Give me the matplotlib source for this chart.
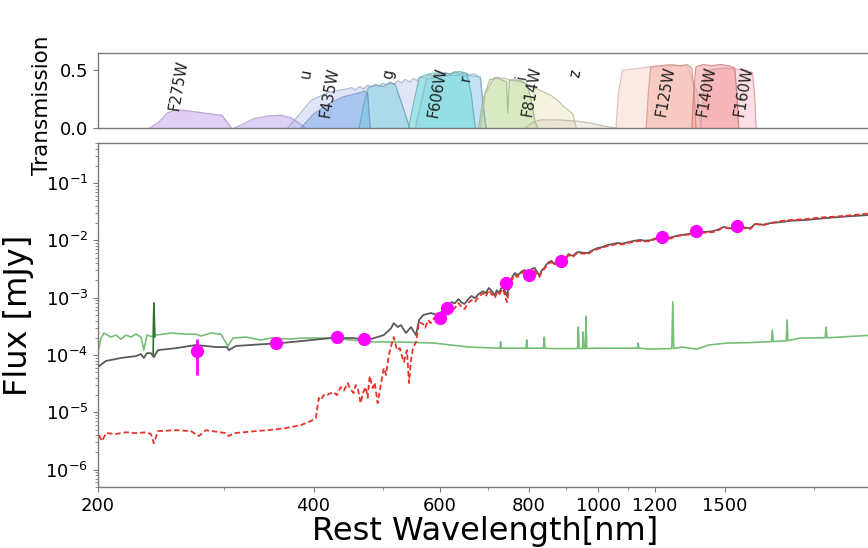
import matplotlib
matplotlib.use("Agg")
import matplotlib.pyplot as plt
import numpy as np

# ---------------- data ----------------
# filter transmission curves (wavelength nm, transmission)
f275w_wl = [236, 243, 250, 257, 270, 285, 298, 303, 307]
f275w_t = [0, 0.05, 0.13, 0.16, 0.145, 0.125, 0.11, 0.05, 0]
u2_wl = [310, 318, 330, 345, 360, 372, 382, 390]
u2_t = [0, 0.03, 0.08, 0.105, 0.11, 0.09, 0.04, 0]
broad_wl = [368, 380, 397, 420, 446, 452, 458, 464, 470, 476, 482, 488, 494, 500, 506, 512, 518, 525, 531, 537,
            545, 552, 558, 564, 572, 580, 588, 596, 604, 612, 620, 630, 640, 650, 660, 670, 678, 684, 690, 697]
broad_t = [0, 0.1, 0.24, 0.31, 0.34, 0.35, 0.33, 0.36, 0.34, 0.37, 0.36, 0.38, 0.36, 0.39, 0.37, 0.40, 0.38,
           0.41, 0.39, 0.42, 0.40, 0.43, 0.41, 0.44, 0.43, 0.46, 0.45, 0.47, 0.46, 0.48, 0.46, 0.49, 0.47, 0.48,
           0.46, 0.47, 0.45, 0.44, 0.2, 0]
f435w_wl = [384, 400, 420, 440, 460, 472, 476, 480]
f435w_t = [0, 0.12, 0.21, 0.27, 0.30, 0.32, 0.30, 0]
g_wl = [463, 470, 477, 490, 500, 510, 520, 532, 545]
g_t = [0, 0.2, 0.35, 0.37, 0.36, 0.39, 0.38, 0.2, 0]
f606w_wl = [543, 552, 562, 580, 600, 620, 640, 655, 664, 673]
f606w_t = [0, 0.22, 0.44, 0.47, 0.48, 0.47, 0.49, 0.47, 0.3, 0]
r_wl = [555, 575, 600, 640, 670, 684, 690, 696]
r_t = [0, 0.42, 0.45, 0.46, 0.45, 0.44, 0.2, 0]
i_wl = [680, 690, 705, 725, 744, 747, 751, 760, 780, 795, 805, 815, 822]
i_t = [0, 0.25, 0.42, 0.43, 0.40, 0.13, 0.41, 0.42, 0.41, 0.38, 0.25, 0.06, 0]
f814w_wl = [684, 695, 716, 740, 760, 780, 800, 820, 840, 860, 880, 893, 910, 921, 931]
f814w_t = [0, 0.3, 0.44, 0.43, 0.41, 0.40, 0.37, 0.34, 0.31, 0.28, 0.23, 0.19, 0.15, 0.12, 0]
z_wl = [790, 810, 830, 880, 930, 980, 1020, 1060]
z_t = [0, 0.05, 0.07, 0.07, 0.06, 0.04, 0.015, 0]
f110_wl = [1058, 1066, 1080, 1120, 1180, 1250, 1330, 1375, 1390]
f110_t = [0, 0.3, 0.50, 0.51, 0.53, 0.54, 0.54, 0.3, 0]
f160w_wl = [1390, 1400, 1415, 1500, 1560, 1610, 1640, 1652, 1660]
f160w_t = [0, 0.3, 0.5, 0.52, 0.51, 0.50, 0.48, 0.3, 0]
f140w_wl = [1350, 1358, 1368, 1400, 1440, 1480, 1520, 1550, 1560, 1570]
f140w_t = [0, 0.3, 0.53, 0.55, 0.54, 0.55, 0.54, 0.52, 0.3, 0]
f125w_wl = [1166, 1174, 1183, 1220, 1260, 1300, 1330, 1350, 1360, 1368]
f125w_t = [0, 0.3, 0.53, 0.54, 0.55, 0.54, 0.55, 0.52, 0.3, 0]

filter_names = ["F275W", "u", "F435W", "g", "F606W", "r", "i", "F814W", "z", "F125W", "F140W", "F160W"]
label_wl = [259.5, 390, 421, 509.5, 596, 652.6, 781, 807, 928, 1239, 1414, 1595]
label_t = [0.37, 0.47, 0.31, 0.47, 0.31, 0.43, 0.44, 0.32, 0.47, 0.32, 0.32, 0.32]

# model spectra: (rest wavelength nm, flux mJy)
gray_points = [
    (200.6, 6.4e-5), (205.2, 7.9e-5), (215.3, 8.9e-5), (226.0, 9.6e-5), (229.6, 1.04e-4), (231.8, 8.9e-5),
    (234.1, 1.08e-4), (237.1, 1.08e-4), (239.4, 9.2e-5), (242.5, 1.22e-4), (257.0, 1.32e-4), (274.0, 1.5e-4),
    (292.2, 1.38e-4), (302.7, 1.38e-4), (304.6, 1.22e-4), (311.5, 1.44e-4), (326.9, 1.5e-4), (360.0, 1.62e-4),
    (383.9, 1.75e-4), (422.8, 1.98e-4), (455.0, 1.98e-4), (476.1, 1.83e-4), (501.3, 2.23e-4), (512.8, 2.9e-4),
    (517.8, 3.6e-4), (524.6, 3.08e-4), (529.7, 3.34e-4), (538.4, 2.42e-4), (547.2, 3.08e-4), (556.1, 2.23e-4),
    (561.6, 4.08e-4), (568.9, 4.99e-4), (576.0, 5.2e-4), (583.8, 5.41e-4), (592.0, 5.1e-4), (603.1, 5.62e-4),
    (610.0, 6.2e-4), (617.0, 6.88e-4), (623.1, 8.4e-4), (630.0, 8.0e-4), (637.4, 9.5e-4), (643.6, 8.3e-4),
    (649.9, 7.8e-4), (658.5, 9.6e-4), (664.9, 1.07e-3), (672.0, 9.8e-4), (680.2, 1.16e-3), (690.0, 1.3e-3),
    (696.0, 1.2e-3), (702.8, 1.48e-3), (709.6, 1.3e-3), (716.5, 1.1e-3), (721.0, 1.35e-3), (726.0, 1.21e-3),
    (731.0, 1.45e-3), (736.2, 1.54e-3), (741.4, 1.25e-3), (745.0, 1.07e-3), (752.3, 1.95e-3), (758.0, 2.3e-3),
    (764.1, 2.7e-3), (770.0, 2.5e-3), (775.0, 2.6e-3), (782.0, 2.9e-3), (788.9, 3.04e-3), (795.0, 2.8e-3),
    (800.0, 2.85e-3), (807.0, 3.2e-3), (814.3, 3.3e-3), (820.0, 2.9e-3), (827.0, 2.39e-3), (833.0, 3.0e-3),
    (840.0, 3.3e-3), (846.0, 3.8e-3), (853.2, 4.2e-3), (860.0, 4.4e-3), (866.0, 3.9e-3), (873.0, 4.2e-3),
    (880.4, 4.55e-3), (887.0, 4.4e-3), (894.0, 4.3e-3), (901.0, 5.0e-3), (908.3, 5.79e-3), (915.0, 5.5e-3),
    (922.0, 5.4e-3), (930.0, 6.0e-3), (937.2, 6.28e-3), (950.0, 6.1e-3), (966.8, 6.03e-3), (980.0, 6.7e-3),
    (997.5, 7.37e-3), (1010, 7.6e-3), (1029, 8.3e-3), (1045, 8.6e-3), (1062, 9.0e-3), (1080, 8.8e-3),
    (1100, 9.3e-3), (1120, 9.8e-3), (1143, 1.02e-2), (1160, 9.9e-3), (1180, 1.0e-2), (1200, 1.08e-2),
    (1217, 1.15e-2), (1240, 1.1e-2), (1260, 1.12e-2), (1285, 1.2e-2), (1307, 1.24e-2), (1340, 1.3e-2),
    (1382, 1.4e-2), (1426, 1.42e-2), (1448, 1.46e-2), (1470, 1.55e-2), (1495, 1.71e-2), (1520, 1.65e-2),
    (1540, 1.6e-2), (1580, 1.7e-2), (1629, 1.64e-2), (1655, 1.93e-2), (1700, 1.88e-2), (1737, 2.0e-2),
    (1800, 2.09e-2), (1852, 2.2e-2), (1950, 2.27e-2), (2039, 2.4e-2), (2200, 2.6e-2), (2420, 2.8e-2),
]

red_points = [
    (200.6, 4.0e-6), (202.6, 3.16e-6), (205.2, 4.35e-6), (211.9, 4.2e-6), (218.8, 4.5e-6), (226.0, 4.35e-6),
    (233.3, 4.5e-6), (237.1, 4.2e-6), (239.4, 2.9e-6), (242.5, 4.72e-6), (257.0, 4.9e-6), (269.7, 4.72e-6),
    (276.6, 3.86e-6), (283.0, 4.9e-6), (301.7, 4.35e-6), (304.6, 3.86e-6), (309.5, 4.35e-6), (332.2, 4.72e-6),
    (345.3, 4.9e-6), (365.8, 5.32e-6), (383.9, 6.0e-6), (396.5, 7.05e-6), (402.9, 7.96e-6), (406.8, 1.78e-5),
    (410.0, 1.65e-5), (413.0, 2.0e-5), (416.1, 1.92e-5), (420.0, 2.1e-5), (426.8, 2.26e-5), (431.0, 2.0e-5),
    (436.5, 2.76e-5), (441.0, 2.4e-5), (446.4, 3.25e-5), (450.0, 2.6e-5), (455.0, 2.17e-5), (458.0, 3.0e-5),
    (461.1, 2.66e-5), (465.4, 1.45e-5), (469.0, 2.2e-5), (473.0, 2.76e-5), (476.0, 1.8e-5), (479.2, 4.31e-5),
    (483.8, 2.66e-5), (487.0, 3.3e-5), (491.6, 1.45e-5), (496.5, 2.99e-5), (501.3, 5.93e-5), (505.0, 4.5e-5),
    (509.5, 1.0e-4), (512.8, 1.38e-4), (517.8, 2.06e-4), (523.1, 1.22e-4), (528.0, 1.32e-4), (531.0, 1.0e-4),
    (534.9, 7.55e-5), (540.2, 1.22e-4), (543.7, 3.25e-5), (547.2, 8.18e-5), (550.7, 1.32e-4), (556.1, 1.69e-4),
    (561.6, 3.77e-4), (568.9, 3.47e-4), (573.0, 3.0e-4), (578.1, 4.08e-4), (583.0, 3.6e-4), (589.5, 4.43e-4),
    (596.0, 4.2e-4), (603.1, 4.99e-4), (610.0, 5.3e-4), (617.0, 5.1e-4), (623.1, 5.86e-4), (630.0, 6.6e-4),
    (637.4, 8.07e-4), (643.6, 7.0e-4), (649.9, 6.35e-4), (658.5, 8.2e-4), (664.9, 9.12e-4), (672.0, 8.4e-4),
    (680.2, 1.03e-3), (690.0, 1.2e-3), (696.0, 1.05e-3), (702.8, 1.36e-3), (709.6, 1.15e-3), (716.5, 1.0e-3),
    (721.0, 1.2e-3), (726.0, 1.11e-3), (731.0, 1.3e-3), (736.2, 1.43e-3), (741.4, 1.0e-3), (745.0, 8.4e-4),
    (752.3, 1.73e-3), (758.0, 2.1e-3), (764.1, 2.5e-3), (770.0, 2.3e-3), (775.0, 2.45e-3), (782.0, 2.7e-3),
    (788.9, 2.92e-3), (795.0, 2.6e-3), (800.0, 2.7e-3), (807.0, 3.05e-3), (814.3, 3.04e-3), (820.0, 2.6e-3),
    (827.0, 2.3e-3), (833.0, 2.8e-3), (840.0, 3.17e-3), (846.0, 3.6e-3), (853.2, 4.03e-3), (860.0, 4.2e-3),
    (866.0, 3.7e-3), (873.0, 4.0e-3), (880.4, 4.37e-3), (887.0, 4.2e-3), (894.0, 4.1e-3), (901.0, 4.8e-3),
    (908.3, 5.56e-3), (915.0, 5.3e-3), (922.0, 5.2e-3), (930.0, 5.8e-3), (937.2, 6.03e-3), (950.0, 5.9e-3),
    (966.8, 5.79e-3), (980.0, 6.5e-3), (997.5, 7.08e-3), (1010, 7.4e-3), (1029, 7.98e-3), (1045, 8.3e-3),
    (1062, 8.65e-3), (1080, 8.5e-3), (1100, 9.0e-3), (1120, 9.5e-3), (1143, 9.77e-3), (1160, 9.6e-3),
    (1180, 9.7e-3), (1200, 1.05e-2), (1217, 1.1e-2), (1240, 1.06e-2), (1260, 1.08e-2), (1285, 1.17e-2),
    (1307, 1.24e-2), (1340, 1.27e-2), (1382, 1.35e-2), (1426, 1.38e-2), (1448, 1.4e-2), (1470, 1.5e-2),
    (1495, 1.71e-2), (1520, 1.62e-2), (1540, 1.55e-2), (1580, 1.66e-2), (1629, 1.58e-2), (1655, 1.93e-2),
    (1700, 1.85e-2), (1737, 2.0e-2), (1800, 2.18e-2), (1852, 2.26e-2), (1950, 2.36e-2), (2039, 2.5e-2),
    (2200, 2.67e-2), (2420, 3.0e-2),
]

green_points = [
    (200.6, 1.32e-4), (201.9, 1.98e-4), (203.9, 2.42e-4), (208.5, 2.06e-4), (211.9, 2.23e-4), (215.3, 1.9e-4),
    (218.8, 2.23e-4), (222.4, 2.06e-4), (226.0, 2.32e-4), (229.6, 2.06e-4), (231.8, 1.22e-4), (234.1, 2.23e-4),
    (238.8, 2.06e-4), (239.4, 8.1e-4), (240.0, 2.1e-4), (241.0, 2.23e-4), (252.9, 2.42e-4), (265.4, 2.32e-4),
    (274.0, 2.32e-4), (278.5, 2.15e-4), (287.5, 2.42e-4), (296.9, 2.32e-4), (303.7, 1.44e-4), (308.6, 1.98e-4),
    (321.7, 2.06e-4), (337.6, 1.83e-4), (348.6, 1.98e-4), (371.7, 1.9e-4), (383.9, 1.98e-4), (426.8, 1.98e-4),
    (450.7, 1.83e-4), (485.4, 1.69e-4), (529.7, 1.69e-4), (589.5, 1.62e-4), (658.5, 1.38e-4), (726.0, 1.32e-4),
    (728.5, 1.32e-4), (730.0, 1.7e-4), (731.5, 1.32e-4), (752.3, 1.32e-4), (792.0, 1.32e-4), (794.0, 1.83e-4),
    (796.0, 1.32e-4), (838.0, 1.32e-4), (840.0, 2.06e-4), (842.0, 1.32e-4), (853.2, 1.3e-4), (935.0, 1.3e-4),
    (937.2, 3.08e-4), (939.5, 1.3e-4), (950.0, 1.3e-4), (951.9, 2.52e-4), (954.0, 1.3e-4), (958.5, 1.3e-4),
    (960.8, 4.79e-4), (963.0, 1.3e-4), (997.5, 1.32e-4), (1062, 1.32e-4), (1133, 1.32e-4), (1136, 1.62e-4),
    (1139, 1.32e-4), (1180, 1.27e-4), (1266, 1.3e-4), (1270, 8.4e-4), (1274, 1.3e-4), (1307, 1.38e-4),
    (1372, 1.27e-4), (1426, 1.5e-4), (1512, 1.62e-4), (1629, 1.65e-4), (1744, 1.72e-4), (1749, 2.73e-4),
    (1754, 1.72e-4), (1829, 1.78e-4), (1834, 4.08e-4), (1839, 1.78e-4), (1912, 1.98e-4), (2073, 2.0e-4),
    (2079, 3.08e-4), (2085, 2.0e-4), (2174, 2.06e-4), (2420, 2.23e-4),
]

spike_points = [(238.8, 1.0e-4), (239.4, 8.1e-4), (240.0, 2.1e-4)]

gray_wl, gray_flux = zip(*gray_points)
red_wl, red_flux = zip(*red_points)
green_wl, green_flux = zip(*green_points)
spike_wl, spike_flux = zip(*spike_points)

# photometry
phot_wl = [275, 355, 432, 471, 600, 614, 742, 800, 886, 1228, 1370, 1562]
phot_flux = [1.17e-4, 1.6e-4, 2.06e-4, 1.9e-4, 4.4e-4, 6.6e-4, 1.81e-3, 2.49e-3, 4.36e-3, 1.15e-2, 1.46e-2, 1.78e-2]
phot_err_lo = [7.2e-5, 5e-6, 6e-6, 6e-6, 1.5e-5, 2e-5, 5e-5, 7e-5, 1.2e-4, 4e-4, 1.8e-3, 2.2e-3]
phot_err_hi = [7.3e-5, 5e-6, 6e-6, 6e-6, 1.5e-5, 2e-5, 5e-5, 7e-5, 1.2e-4, 4e-4, 1.8e-3, 2.2e-3]

xticks_major = [200, 400, 600, 800, 1000, 1200, 1500]
xticks_minor = [300, 500, 700, 900, 1100, 2000]

# ---------------- figure ----------------
W, H = 868, 548
fig = plt.figure(figsize=(W / 100, H / 100), dpi=100)
plt.rcParams['font.family'] = ['DejaVu Sans']
edge = '#7a7a7a'

def fx(px):
    return px / W

def fy(py):
    return 1 - py / H

L, R = 98, 872
ax_t = fig.add_axes([fx(L), fy(128), fx(R - L), (128 - 53) / H])
ax = fig.add_axes([fx(L), fy(487), fx(R - L), (487 - 143) / H])

for a in (ax_t, ax):
    a.set_xscale('log')
    a.set_xlim(200, 2410)
    for s in a.spines.values():
        s.set_color(edge)
        s.set_linewidth(1.0)

# transmission panel
curves = [
    (f275w_wl, f275w_t, '#b58ae6', '#a58cc8'),
    (u2_wl, u2_t, '#a98ae6', '#a092c8'),
    (broad_wl, broad_t, '#b3c1ee', '#9aa6c0'),
    (f435w_wl, f435w_t, '#5a98e6', '#6a8fb8'),
    (g_wl, g_t, '#5fc8d8', '#5f9fae'),
    (r_wl, r_t, '#9ddcf0', '#7fb0bf'),
    (f606w_wl, f606w_t, '#48dccf', '#5aaea8'),
    (f814w_wl, f814w_t, '#e6e0b4', '#b8b299'),
    (i_wl, i_t, '#b1dc94', '#94b286'),
    (z_wl, z_t, '#ddd5bc', '#b5ad98'),
    (f110_wl, f110_t, '#f9ccbf', '#d8b0a4'),
    (f160w_wl, f160w_t, '#f7b0bd', '#d4949f'),
    (f140w_wl, f140w_t, '#f37a7a', '#cc7070'),
    (f125w_wl, f125w_t, '#f39e8e', '#d08a7e'),
]
for wl, t, fc, ec in curves:
    ax_t.fill_between(wl, 0, t, color=fc, alpha=0.4, lw=0)
    ax_t.plot(wl, t, color=ec, lw=0.9, alpha=0.75)

for name, lw_, lt in zip(filter_names, label_wl, label_t):
    ax_t.text(lw_, lt, name, rotation=80, fontsize=10.5, ha='center', va='center', color='#222222')

ax_t.set_ylim(0, 0.65)
ax_t.set_yticks([0.0, 0.5])
ax_t.set_yticklabels(['0.0', '0.5'])
ax_t.tick_params(axis='x', which='both', bottom=False, labelbottom=False)
ax_t.tick_params(axis='y', labelsize=13, color=edge)
ax_t.set_ylabel('Transmission', fontsize=15.5)
ax_t.yaxis.set_label_coords(-0.06, 0.3)

# main panel
ax.plot(green_wl, green_flux, color='#5fb35f', lw=1.2, alpha=0.85, zorder=2)
ax.plot(spike_wl, spike_flux, color='#2f6f2f', lw=1.2, zorder=2)
ax.plot(gray_wl, gray_flux, color='#5a5a5a', lw=1.3, zorder=3)
ax.plot(red_wl, red_flux, color='#e8332b', lw=1.3, ls=(0, (3, 1.6)), zorder=4)
ax.errorbar(phot_wl, phot_flux, yerr=[phot_err_lo, phot_err_hi], fmt='o', color='#ff00ff',
            ms=8.5, elinewidth=2, capsize=0, zorder=5)

ax.set_yscale('log')
ax.set_ylim(5e-7, 5e-1)
ax.set_xticks(xticks_major)
ax.set_xticklabels([str(v) for v in xticks_major])
ax.set_xticks(xticks_minor, minor=True)
ax.xaxis.set_minor_formatter(matplotlib.ticker.NullFormatter())
ax.tick_params(axis='both', which='major', labelsize=13, color=edge)
ax.tick_params(axis='both', which='minor', color=edge)
ax.set_xlabel('Rest Wavelength[nm]', fontsize=23, labelpad=1)
ax.set_ylabel('Flux [mJy]', fontsize=23)
ax.yaxis.set_label_coords(-0.083, 0.5)

fig.savefig('out.png', dpi=100)
